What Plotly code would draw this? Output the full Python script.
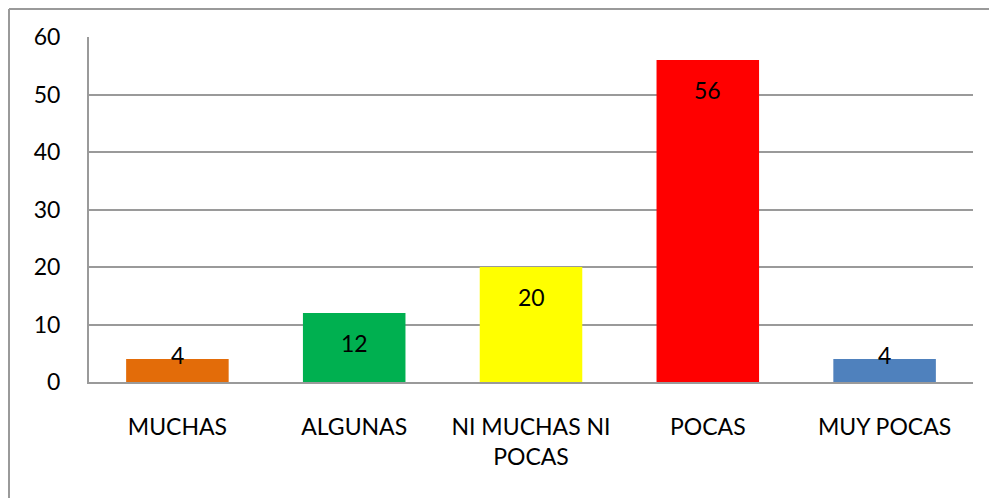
import plotly.graph_objects as go

categories = ["MUCHAS", "ALGUNAS", "NI MUCHAS NI<br>POCAS", "POCAS", "MUY POCAS"]
values = [4, 12, 20, 56, 4]
colors = ["#E36C09", "#00B050", "#FFFF00", "#FF0000", "#4F81BD"]
y_ticks = [0, 10, 20, 30, 40, 50, 60]

FONT = "Lato, Carlito, Calibri, sans-serif"
OFF = 8  # page body margin
W, H = 997 - OFF, 498 - OFF
L, R, T, B = 89 - OFF, 973 - OFF, 37 - OFF, 382 - OFF

fig = go.Figure()
fig.add_trace(go.Bar(
    x=categories, y=values, marker=dict(color=colors, line=dict(width=0)),
    width=0.58, hoverinfo="skip", showlegend=False,
))

for c, v in zip(categories, values):
    fig.add_annotation(
        x=c, y=v, xref="x", yref="y", text=str(v), showarrow=False,
        yanchor="middle", yshift=(-30 if v >= 10 else 4),
        font=dict(family=FONT, size=23, color="black"),
    )

# figure-pixel -> paper coordinates
def px(xf):
    return (xf - L) / (R - L)

def py(yf):
    return (B - yf) / (B - T)

line = dict(color="#9A9A9A", width=2)
fig.add_shape(type="line", xref="paper", yref="paper",
              x0=px(1), x1=px(W), y0=py(1), y1=py(1), line=line)
fig.add_shape(type="line", xref="paper", yref="paper",
              x0=px(1), x1=px(1), y0=py(1), y1=py(H), line=line)

fig.update_layout(
    width=W, height=H,
    margin=dict(l=L, r=W - R, t=T, b=H - B, pad=0),
    paper_bgcolor="white", plot_bgcolor="white",
    font=dict(family=FONT, size=23, color="black"),
    bargap=0.42,
    xaxis=dict(
        showgrid=False, showline=True, linecolor="#9A9A9A", linewidth=2,
        ticks="", tickfont=dict(size=23), ticklabelstandoff=23,
        fixedrange=True,
    ),
    yaxis=dict(
        range=[0, 60], tickvals=y_ticks, showgrid=True, gridcolor="#9A9A9A",
        gridwidth=2, showline=True, linecolor="#9A9A9A", linewidth=2,
        zeroline=False, ticks="", tickfont=dict(size=23),
        ticklabelstandoff=22, fixedrange=True,
    ),
)

fig.write_html("out.html")
